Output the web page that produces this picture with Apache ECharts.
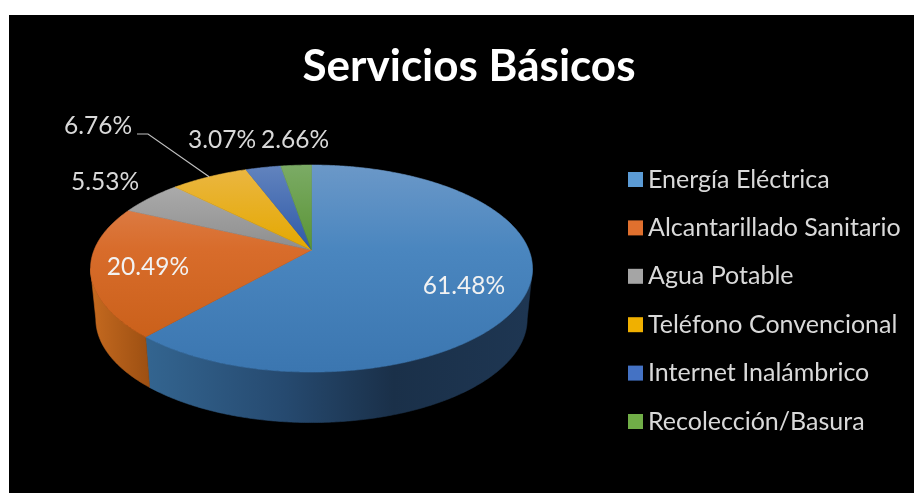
<!DOCTYPE html>
<html>
<head>
<meta charset="utf-8">
<style>
  html, body { margin: 0; padding: 0; background: #fff; }
  #chart { position: absolute; left: 9px; top: 15px; width: 905px; height: 478px; }
</style>
<script src="https://cdn.jsdelivr.net/npm/echarts@6/dist/echarts.min.js"></script>
</head>
<body>
<div id="chart"></div>
<script>
const categories = ["Energía Eléctrica", "Alcantarillado Sanitario", "Agua Potable", "Teléfono Convencional", "Internet Inalámbrico", "Recolección/Basura"];
const percentages = [61.48, 20.49, 5.53, 6.76, 3.07, 2.66];
const labels = ["61.48%", "20.49%", "5.53%", "6.76%", "3.07%", "2.66%"];

// vertical gradient of each top face, and the swatch colour
const topLight = ["#6b98c8", "#e08a5c", "#b4b4b4", "#ebb744", "#6284be", "#7bab65"];
const topMid = ["#4a86bf", "#d86c2b", "#8e8e8e", "#e4a800", "#2f59a8", "#5a9435"];
const topDark = ["#3b76b0", "#c55c14", "#858585", "#d89a00", "#2c55a5", "#578f31"];
const swatches = ["#5b9bd5", "#e0702e", "#a5a5a5", "#f0b000", "#4472c4", "#70ad47"];

// label centres, in chart pixels
const labelX = [455, 139, 96, 89, 213, 286];
const labelY = [271, 252, 167, 111, 125, 125];

// perspective of the pie: the circle centre is pushed up from the ellipse centre
const cx = 302.5, cy = 235, ax = 217.4, by = 100.2, persp = -0.179;
const depth = 50.5, shrink = 0.976;

const total = percentages.reduce((a, b) => a + b, 0);

// the wall is only seen between the two tangent points of the rim
const wallFrom = Math.acos(persp) * 180 / Math.PI;
const wallTo = 360 - wallFrom;

function rim(deg) {
  const t = deg * Math.PI / 180;
  const u = Math.sin(t), v = -Math.cos(t);
  const w = 1 + persp * v;
  return [cx + ax * u / w, cy + by * v / w];
}

function startAngle(i) {
  let sum = 0;
  for (let k = 0; k < i; k++) sum += percentages[k];
  return sum / total * 360;
}

function arc(from, to) {
  const pts = [];
  const n = Math.max(2, Math.ceil((to - from) / 0.5));
  for (let k = 0; k <= n; k++) pts.push(rim(from + (to - from) * k / n));
  return pts;
}

function vgrad(i) {
  return {
    type: "linear", global: true, x: 0, y: 150, x2: 0, y2: 357,
    colorStops: [
      { offset: 0, color: topLight[i] },
      { offset: 0.41, color: topMid[i] },
      { offset: 1, color: topDark[i] }
    ]
  };
}

const sideFills = [
  { type: "linear", global: true, x: 141, y: 0, x2: 521, y2: 0,
    colorStops: [{ offset: 0, color: "#33648f" }, { offset: 0.35, color: "#264a70" }, { offset: 0.64, color: "#1a3049" }, { offset: 1, color: "#1e3652" }] },
  { type: "linear", global: true, x: 83, y: 0, x2: 141, y2: 0,
    colorStops: [{ offset: 0, color: "#c4691f" }, { offset: 1, color: "#9c4f12" }] }
];

function renderSide(params, api) {
  const i = params.dataIndex;
  const from = Math.max(startAngle(i), wallFrom);
  const to = Math.min(startAngle(i) + api.value(0) / total * 360, wallTo);
  if (to <= from || !sideFills[i]) return null;
  const upper = arc(from, to);
  const lower = upper.map(p => [cx + (p[0] - cx) * shrink, p[1] + depth]).reverse();
  return {
    type: "polygon",
    shape: { points: upper.concat(lower) },
    style: { fill: sideFills[i], stroke: sideFills[i], lineWidth: 0.6 }
  };
}

function makeTop(i) {
  return function (params, api) {
    const from = startAngle(i);
    const to = from + api.value(0) / total * 360;
    const children = [{
      type: "polygon",
      shape: { points: [[cx, cy]].concat(arc(from, to)) },
      style: { fill: vgrad(i), stroke: vgrad(i), lineWidth: 0.6 }
    }, {
      type: "text",
      z2: 10,
      style: {
        text: labels[i], x: labelX[i], y: labelY[i], fill: i < 2 ? "#f2f2f2" : "#d9d9d9",
        font: "24.5px Lato", align: "center", verticalAlign: "middle"
      }
    }];
    // only the Teléfono slice has a leader line
    if (i === 3) {
      const end = rim((from + to) / 2);
      children.push({
        type: "polyline",
        z2: 10,
        shape: { points: [[128, 119], [139, 119], end] },
        style: { fill: "none", stroke: "#bfbfbf", lineWidth: 1.2 }
      });
    }
    return { type: "group", children: children };
  };
}

const chart = echarts.init(document.getElementById("chart"));
chart.setOption({
  animation: false,
  backgroundColor: "#000",
  title: {
    text: "Servicios Básicos",
    left: 455, top: 25, textAlign: "center",
    textStyle: { color: "#fff", fontFamily: "Lato", fontWeight: "bold", fontSize: 44 }
  },
  legend: {
    orient: "vertical",
    left: 619, top: 152,
    padding: 0,
    itemWidth: 15, itemHeight: 15, itemGap: 23.4,
    selectedMode: false,
    icon: "rect",
    data: categories,
    textStyle: { color: "#d9d9d9", fontFamily: "Lato", fontSize: 25 }
  },
  series: [
    {
      type: "custom", name: "lados", coordinateSystem: "none", z: 1, silent: true,
      renderItem: renderSide,
      data: percentages.map(p => [p])
    }
  ].concat(categories.map((name, i) => ({
    type: "custom", name: name, coordinateSystem: "none", z: 2, silent: true,
    itemStyle: { color: swatches[i] },
    renderItem: makeTop(i),
    data: [[percentages[i]]]
  })))
});
</script>
</body>
</html>
